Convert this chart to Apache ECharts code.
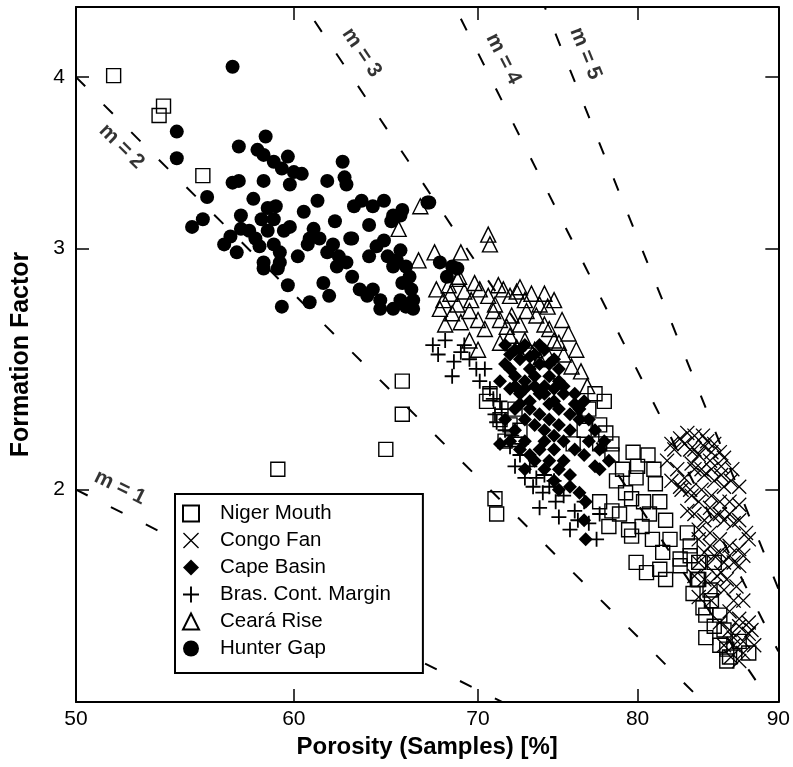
<!DOCTYPE html>
<html><head><meta charset="utf-8">
<script src="https://cdn.jsdelivr.net/npm/echarts@6/dist/echarts.min.js"></script>
<style>html,body{margin:0;padding:0;background:#fff}#c{width:793px;height:767px}</style>
</head><body><div id="c"></div>
<script>
// ---- data (porosity %, formation factor) ----
const nigerMouth = [[51.6,4.01],[53.8,3.81],[53.6,3.75],[55.6,3.39],[65.7,2.40],[65.7,2.27],[64.8,2.14],[59.2,2.07],[71.0,1.97],[71.1,1.92],
[70.5,2.32],[70.7,2.35],[71.3,2.25],[71.9,2.23],[72.5,2.21],[71.6,2.17],[72.2,2.29],[76.8,2.29],[77.5,2.23],[77.9,2.20],[78.3,2.16],[77.2,2.35],[77.8,2.32],[76.5,2.21],[75.8,2.16],
[79.7,2.13],[80.0,2.08],[79.9,2.04],[78.6,2.03],[79.2,1.99],[79.6,1.97],[81.2,2.02],[81.5,1.96],[78.8,1.92],[78.1,1.88],[79.4,1.87],[79.6,1.85],[80.3,1.88],[81.0,1.84],[81.9,1.90],[82.2,1.84],[81.7,1.80],[79.9,1.77],[80.6,1.74],[81.5,1.75],[81.9,1.72],[82.9,1.78],[83.4,1.86],[82.9,1.76],[84.1,1.72],[83.8,1.68],[84.5,1.64],[84.7,1.62],[85.7,1.62],[84.7,1.56],[85.7,1.54],[86.2,1.53],[86.2,1.50],[87.8,1.52],[77.5,1.96],[78.3,1.93],[80.4,1.96],[80.8,1.92],[83.6,1.82],[84.2,1.77],[85.0,1.69],[85.3,1.59],[86.0,1.58],[86.4,1.51],[87.1,1.55],
[77.5,2.16],[78.3,2.12],[79.0,2.07],[80.7,2.12],[81.1,2.07],[83.6,1.79],[84.2,1.72],[85.1,1.66],[85.3,1.77]];
const congoFan = [[82.0,2.10],[82.3,2.16],[82.9,2.18],[83.4,2.20],[83.9,2.19],[84.5,2.19],[84.8,2.17],[85.3,2.16],[85.7,2.13],[83.6,2.14],[84.2,2.12],[85.0,2.10],[85.8,2.08],[86.6,2.07],[87.1,2.01],[82.7,2.07],[83.2,2.04],[83.9,2.07],[84.6,2.05],[85.3,2.03],[86.0,2.01],[82.3,2.03],[83.0,2.00],[83.7,1.98],[84.4,2.00],[85.1,1.98],[85.7,1.96],[86.4,1.96],[87.1,1.95],[83.4,1.93],
[83.9,1.92],[84.6,1.90],[85.3,1.91],[86.0,1.90],[86.7,1.89],[87.6,1.86],[84.2,1.87],[85.0,1.86],[85.7,1.84],[86.4,1.82],[87.1,1.81],[84.6,1.80],[85.3,1.79],[86.0,1.77],[86.7,1.77],[87.4,1.79],[84.2,1.77],
[83.9,1.73],[84.6,1.72],[85.3,1.70],[86.0,1.69],[86.7,1.66],[84.2,1.67],[85.1,1.66],[85.8,1.74],
[85.7,1.60],[86.4,1.58],[87.1,1.59],[87.8,1.57],[86.7,1.54],[87.4,1.52],[88.0,1.58],[86.0,1.54],[87.1,1.50],[86.5,1.51],
[82.5,2.14],[83.2,2.16],[83.9,2.14],[84.6,2.15],[85.1,2.13],[86.0,2.11],[83.7,2.09],[84.4,2.07],[85.1,2.07],[85.8,2.05],[86.5,2.03],[82.9,2.01],[83.6,2.00],[84.2,1.96],[85.0,1.94],[85.7,1.92],[86.4,1.92],[87.1,1.90],[87.8,1.84],[84.2,1.84],[85.0,1.82],[85.7,1.80],[86.4,1.79],[87.1,1.76],[84.8,1.76],[85.5,1.73],[86.2,1.72],[86.9,1.70],[87.4,1.66],[86.4,1.63],[87.1,1.61],[87.8,1.60],[87.4,1.55],[88.2,1.54],[86.7,1.56]];
const capeBasin = [[71.6,2.55],[72.2,2.53],[72.8,2.55],[73.4,2.51],[74.0,2.53],[74.6,2.49],[72.5,2.49],[73.1,2.45],[73.7,2.47],[74.3,2.42],[74.9,2.40],[71.9,2.45],[71.3,2.40],[72.2,2.38],[72.8,2.37],[73.4,2.38],[74.0,2.35],[74.6,2.32],[75.2,2.35],[75.9,2.31],[72.5,2.31],[73.1,2.29],[73.7,2.27],[74.3,2.25],[74.9,2.23],[75.6,2.21],[76.2,2.25],[76.8,2.17],[77.5,2.14],[78.1,2.10],[77.2,2.08],[71.6,2.25],[72.2,2.21],[72.8,2.17],[71.3,2.16],[74.0,2.17],[74.6,2.14],[75.2,2.10],[75.6,2.05],[74.9,2.00],[76.2,1.99],[76.6,1.96],[76.5,1.90],[76.6,1.84],[72.8,2.07],[73.4,2.10],
[71.9,2.51],[72.5,2.53],[73.1,2.50],[73.7,2.55],[74.3,2.47],[74.9,2.45],[71.6,2.47],[72.2,2.42],[72.8,2.40],[73.4,2.42],[74.0,2.38],[74.6,2.37],[75.2,2.38],[75.9,2.35],[76.5,2.32],[71.9,2.37],[72.5,2.35],[73.1,2.32],[73.7,2.35],[74.3,2.31],[74.9,2.29],[75.6,2.27],[76.2,2.29],[76.8,2.25],[77.2,2.21],[77.8,2.17],[72.2,2.29],[72.8,2.25],[73.4,2.23],[74.0,2.21],[74.6,2.19],[75.2,2.17],[75.9,2.14],[76.5,2.12],[77.5,2.07],[71.9,2.17],[72.5,2.14],[73.1,2.12],[73.7,2.14],[74.3,2.10],[74.9,2.07],[75.6,2.01],[74.6,2.03],[74.0,2.07]];
const brasContMargin = [[67.7,2.51],[68.6,2.48],[69.0,2.52],[68.5,2.42],[69.9,2.45],[70.7,2.37],[71.0,2.27],[71.1,2.24],[71.9,2.15],[72.2,2.08],[72.8,2.04],[73.3,2.01],[73.7,1.94],[74.7,1.96],[74.9,1.91],[75.6,1.87],[77.5,1.92],[77.3,1.84],[74.3,2.01],[73.9,1.99],[67.4,2.55],[68.1,2.57],[69.5,2.49],[70.1,2.40],[71.3,2.32],[71.6,2.21],[72.5,2.12],[73.1,2.08],[74.0,2.05],[74.6,2.03],[75.9,1.93],[76.5,1.96],[76.8,1.89],[69.2,2.55],
[70.4,2.45],[70.9,2.33],[71.4,2.29],[72.0,2.19],[72.6,2.16],[73.5,2.04],[75.2,1.98],[76.1,1.90]];
const cearaRise = [[65.5,3.10],[66.7,3.22],[66.6,2.94],[67.5,2.98],[68.8,2.85],[69.0,2.98],[70.6,3.07],[70.7,3.02],[68.9,2.86],
[68.0,2.75],[68.4,2.78],[68.8,2.73],[69.2,2.79],[69.6,2.75],[70.1,2.80],[70.6,2.77],[71.0,2.73],[71.5,2.80],[71.9,2.77],[72.3,2.79],[72.8,2.75],[73.2,2.78],[73.7,2.73],[74.2,2.72],[68.5,2.69],[69.0,2.65],[69.5,2.70],[70.0,2.66],[70.4,2.62],[70.9,2.70],[71.3,2.66],[71.7,2.63],[72.0,2.68],[72.5,2.64],[72.9,2.70],[73.5,2.68],[74.0,2.64],[74.3,2.62],[74.6,2.57],[74.9,2.56],[75.2,2.51],[75.7,2.46],[76.3,2.44],[76.7,2.38],[71.9,2.59],[71.3,2.56],[72.3,2.54],[72.8,2.57],[73.4,2.53],[73.7,2.49],[74.2,2.51],[69.5,2.57],[70.0,2.53],[67.8,2.71],[68.1,2.64],
[67.6,2.80],[68.3,2.82],[69.8,2.83],[71.2,2.82],[72.5,2.81],[74.0,2.78],[74.6,2.75],[75.1,2.66],[75.5,2.60],[76.0,2.53]];
const hunterGap = [[57.0,4.07],[54.4,3.65],[54.4,3.49],[55.8,3.27],[55.1,3.11],[55.6,3.15],[57.3,3.56],[58.6,3.62],[58.2,3.54],[58.5,3.51],[59.0,3.47],[59.7,3.50],[59.4,3.43],[60.0,3.41],[60.4,3.40],[59.8,3.34],[57.0,3.35],[57.3,3.36],[58.5,3.36],[58.0,3.26],[57.4,3.17],[58.7,3.21],[59.1,3.22],[58.4,3.15],[59.0,3.15],[59.8,3.11],[59.5,3.09],[60.5,3.19],[61.2,3.25],[61.7,3.36],[62.5,3.47],[62.6,3.38],[62.7,3.34],[62.1,3.14],[63.0,3.05],[63.1,3.22],[63.5,3.25],[64.1,3.22],[64.7,3.25],[63.9,3.12],[65.1,3.14],[65.7,3.20],[65.6,3.17],[67.1,3.24],[56.6,3.02],[56.9,3.06],[57.2,2.98],[57.4,3.10],[57.8,3.09],[58.1,3.05],[58.3,3.01],[58.5,2.93],[58.7,3.09],[59.0,3.02],[59.3,2.98],[59.3,2.93],[59.2,2.90],[58.5,2.90],[60.2,2.96],[60.7,3.02],[60.8,3.05],[61.0,3.10],[61.3,3.05],[61.7,2.98],[62.0,3.02],[62.3,2.96],[62.7,2.93],[62.9,3.05],[62.2,2.91],[63.0,2.86],[63.4,2.80],[63.8,2.77],[64.1,2.80],[64.5,2.75],[64.5,2.71],[65.2,2.71],[65.6,2.75],[65.9,2.72],[66.3,2.71],[61.5,2.83],[61.8,2.77],[60.8,2.74],[59.4,2.72],[59.7,2.82],[63.9,2.96],[64.3,3.01],[64.7,3.04],[64.9,2.96],[65.4,2.94],[65.6,2.99],[65.9,2.91],[66.1,2.86],[66.2,2.80],[66.3,2.75],[65.2,2.91],[65.7,2.83],[67.2,3.24],[68.2,2.86],[68.5,2.91],[65.2,3.17],[67.8,2.93],[68.8,2.90]];

const seriesNames = ['Niger Mouth','Congo Fan','Cape Basin','Bras. Cont. Margin','Ceará Rise','Hunter Gap'];
const xLabelValues = [50,60,70,80,90];
const xTickValues = [60,70,80];
const yTickValues = [2,3,4];
const archieM = [1,2,3,4,5];
const porosityEnds = [50,90];
const labelPorosity = [51.46,52.47,62.56,70.44,75.38];

// ---- styles ----
const FONT = 'Liberation Sans, Arial, Helvetica, sans-serif';
const labelOffsets = [[0,-21.5],[0,17],[0,-21.6],[0,-20.1],[0,-20.6]]; // in label's rotated frame
const labelRotate = [-26.3,-44.7,-56,-63.2,-68];
const PLUS = 'path://M0,4.4 L10,4.4 L10,5.6 L0,5.6 Z M4.4,0 L5.6,0 L5.6,10 L4.4,10 Z';
const CROSS = 'path://M0.6,0 L10,9.4 L9.4,10 L0,0.6 Z M9.4,0 L10,0.6 L0.6,10 L0,9.4 Z';

function archieF(phi, m){ return Math.pow(phi/100, -m); }

const chart = echarts.init(document.getElementById('c'), null, {renderer:'canvas'});

const lineSeries = archieM.map((m,i)=>({
  type:'line', name:'m'+m, silent:true, clip:true, z:1,
  showSymbol:false, symbol:'none',
  data: porosityEnds.map(p=>[p, archieF(p,m)]),
  lineStyle:{color:'#000', width:2, type:[13,26]},
  animation:false
}));
const labelSeries = {
  type:'scatter', name:'mlabels', silent:true, clip:false, z:3,
  symbolSize:1, itemStyle:{color:'rgba(0,0,0,0)'},
  data: archieM.map((m,i)=>({
    value:[labelPorosity[i], archieF(labelPorosity[i], m)],
    label:{show:true, formatter:'m = '+m, position:'inside', offset:labelOffsets[i], rotate:labelRotate[i],
      fontSize:21, fontWeight:'bold', color:'#000', fontFamily:FONT}
  }))
};

function scatter(name, data, symbol, size, itemStyle){
  return {type:'scatter', name, data, symbol, symbolSize:size, itemStyle:Object.assign({opacity:1}, itemStyle), z:2, animation:false};
}
const HOLLOW = {color:'rgba(255,255,255,0)', borderColor:'#000', borderWidth:1.4};
const dataSeries = [
  scatter(seriesNames[0], nigerMouth, 'rect', 14, HOLLOW),
  scatter(seriesNames[1], congoFan, CROSS, 15, {color:'#000'}),
  scatter(seriesNames[2], capeBasin, 'diamond', 14, {color:'#000'}),
  scatter(seriesNames[3], brasContMargin, PLUS, 15, {color:'#000'}),
  scatter(seriesNames[4], cearaRise, 'triangle', 15, HOLLOW),
  scatter(seriesNames[5], hunterGap, 'circle', 14, {color:'#000'})
];

const axisLineStyle = {color:'#000', width:2};
const tickStyle = {color:'#000', width:1.5};
const option = {
  backgroundColor:'#fff',
  animation:false,
  grid:{left:76, right:14, top:7, bottom:65, containLabel:false},
  legend:{
    data: seriesNames, orient:'vertical', left:175, top:494,
    itemWidth:16, itemHeight:16, itemGap:6,
    padding:[9,32,14,7],
    borderColor:'#000', borderWidth:2, backgroundColor:'#fff',
    textStyle:{fontSize:20.5, color:'#000', fontFamily:FONT, padding:[0,0,0,16]},
    selectedMode:false
  },
  xAxis:[{
    type:'log', min:50, max:90, position:'bottom',
    name:'Porosity (Samples) [%]', nameLocation:'middle', nameGap:30,
    nameTextStyle:{fontSize:24, fontWeight:'bold', color:'#000', fontFamily:FONT},
    axisLine:{show:true, onZero:false, lineStyle:axisLineStyle},
    axisTick:{show:true, inside:true, length:13, customValues:xTickValues, lineStyle:tickStyle},
    axisLabel:{show:true, customValues:xLabelValues, fontSize:21, color:'#000', fontFamily:FONT, margin:7, formatter:v=>String(Math.round(v))},
    splitLine:{show:false}, minorTick:{show:false}
  },{
    type:'log', min:50, max:90, position:'top',
    axisLine:{show:true, onZero:false, lineStyle:axisLineStyle},
    axisTick:{show:true, inside:true, length:13, customValues:xTickValues, lineStyle:tickStyle},
    axisLabel:{show:false}, splitLine:{show:false}
  }],
  yAxis:[{
    type:'log', min:1.4, max:4.5, position:'left',
    name:'Formation Factor', nameLocation:'middle', nameGap:42, nameRotate:90,
    nameTextStyle:{fontSize:25, fontWeight:'bold', color:'#000', fontFamily:FONT},
    axisLine:{show:true, onZero:false, lineStyle:axisLineStyle},
    axisTick:{show:true, inside:true, length:13, customValues:yTickValues, lineStyle:tickStyle},
    axisLabel:{show:true, customValues:yTickValues, fontSize:21, color:'#000', fontFamily:FONT, margin:11, formatter:v=>String(Math.round(v))},
    splitLine:{show:false}, minorTick:{show:false}
  },{
    type:'log', min:1.4, max:4.5, position:'right',
    axisLine:{show:true, onZero:false, lineStyle:axisLineStyle},
    axisTick:{show:true, inside:true, length:13, customValues:yTickValues, lineStyle:tickStyle},
    axisLabel:{show:false}, splitLine:{show:false}
  }],
  series:[...lineSeries, labelSeries, ...dataSeries]
};
chart.setOption(option);
</script></body></html>
